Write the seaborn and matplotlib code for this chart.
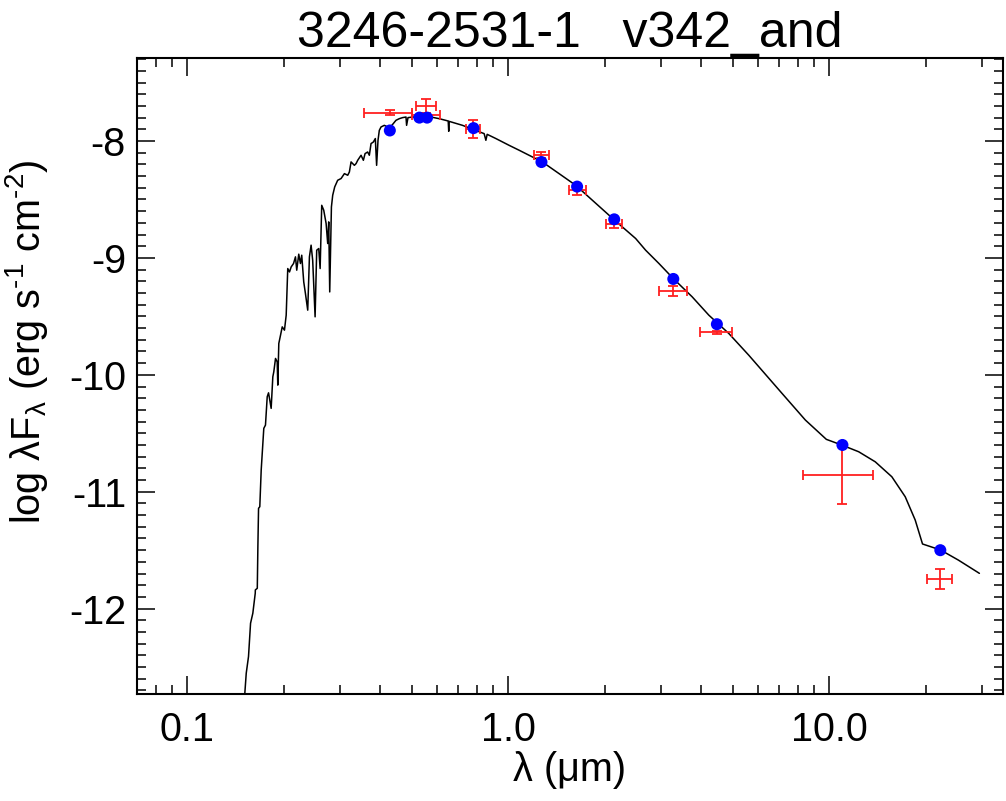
import numpy as np
import pandas as pd
import matplotlib
matplotlib.use("Agg")
import matplotlib.pyplot as plt
import seaborn as sns
from matplotlib.ticker import FixedLocator, FixedFormatter, LogLocator, MultipleLocator, NullFormatter

sns.set_theme(style="ticks")
plt.rcParams["font.family"] = ["Liberation Sans", "DejaVu Sans"]
plt.rcParams["mathtext.fontset"] = "custom"
plt.rcParams["mathtext.rm"] = "Liberation Sans"
plt.rcParams["mathtext.default"] = "regular"
plt.rcParams["axes.unicode_minus"] = False
plt.rcParams["text.color"] = "black"
plt.rcParams["axes.labelcolor"] = "black"
plt.rcParams["xtick.color"] = "black"
plt.rcParams["ytick.color"] = "black"

# model spectrum (wavelength in micron, log lambda F_lambda)
wl_model = [0.151, 0.1528, 0.1553, 0.1576, 0.1602, 0.1630, 0.1631, 0.1654, 0.1661, 0.1669,
            0.1684, 0.1701, 0.1733, 0.1754, 0.1776, 0.1793, 0.1809, 0.1827, 0.1849, 0.1862,
            0.1885, 0.1908, 0.1916, 0.1930, 0.1954, 0.1978, 0.2010, 0.2035, 0.2058, 0.2084,
            0.2109, 0.2145, 0.2175, 0.2195, 0.2227, 0.2254, 0.2275, 0.2308, 0.2336, 0.2375,
            0.2404, 0.2433, 0.2461, 0.2504, 0.2533, 0.2570, 0.2596, 0.2626, 0.2664, 0.2710,
            0.2741, 0.2761, 0.2781, 0.2815, 0.2841, 0.2882, 0.2944, 0.3017, 0.3090, 0.3164,
            0.3202, 0.3241, 0.3319, 0.3360, 0.3399, 0.3482, 0.3540, 0.3583, 0.3650, 0.3695,
            0.3740, 0.3802, 0.3857, 0.3893, 0.3932, 0.3969, 0.4018, 0.4114, 0.4213, 0.4316,
            0.4388, 0.4473, 0.4581, 0.4691, 0.4806, 0.4827, 0.4876, 0.5039, 0.5748, 0.6100,
            0.6506, 0.6530, 0.6550, 0.7208, 0.8419, 0.8524, 0.8604, 0.9157, 1.007, 1.082,
            1.162, 1.278, 1.441, 1.624, 2.137, 2.496, 2.681, 2.950, 3.268, 3.744,
            4.220, 4.868, 5.618, 7.133, 8.433, 9.802, 10.96, 12.36, 13.92, 15.68,
            17.26, 18.54, 19.54, 22.23, 25.28, 29.38]
logf_model = [-12.752, -12.552, -12.410, -12.125, -12.039, -11.868, -11.840, -11.826, -11.470, -11.142,
              -11.128, -10.815, -10.458, -10.430, -10.188, -10.154, -10.216, -10.287, -10.017, -9.974,
              -9.860, -9.889, -10.088, -9.732, -9.661, -9.590, -9.618, -9.490, -9.091, -9.120,
              -9.077, -9.048, -8.991, -9.105, -8.968, -9.048, -8.977, -9.205, -9.304, -9.447,
              -8.991, -8.891, -9.020, -9.504, -8.934, -8.920, -9.091, -8.550, -8.592, -8.706,
              -8.877, -8.692, -9.291, -8.564, -8.464, -8.393, -8.336, -8.321, -8.279, -8.293,
              -8.265, -8.179, -8.208, -8.193, -8.165, -8.122, -8.165, -8.108, -8.094, -8.122,
              -8.022, -8.009, -7.979, -8.208, -7.994, -7.909, -7.880, -7.866, -7.880, -7.874,
              -7.851, -7.823, -7.809, -7.800, -7.795, -7.866, -7.800, -7.795, -7.795, -7.809,
              -7.829, -7.917, -7.832, -7.866, -7.937, -7.994, -7.943, -7.979, -8.037, -8.079,
              -8.122, -8.179, -8.279, -8.379, -8.673, -8.834, -8.934, -9.048, -9.176, -9.333,
              -9.490, -9.646, -9.832, -10.159, -10.387, -10.552, -10.601, -10.658, -10.744, -10.872,
              -11.043, -11.242, -11.447, -11.498, -11.585, -11.698]

# synthetic photometry (blue dots)
wl_synth = [0.428, 0.529, 0.559, 0.78, 1.27, 1.64, 2.14, 3.27, 4.47, 11.0, 22.2]
logf_synth = [-7.91, -7.80, -7.80, -7.89, -8.18, -8.39, -8.67, -9.18, -9.567, -10.60, -11.50]

# observed photometry (red error bars)
wl_obs = [0.43, 0.555, 0.555, 0.777, 1.27, 1.64, 2.14, 3.26, 4.47, 11.0, 22.2]
wl_lo = [0.356, 0.518, 0.503, 0.738, 1.205, 1.548, 2.013, 2.95, 3.96, 8.29, 20.2]
wl_hi = [0.50, 0.597, 0.614, 0.818, 1.341, 1.745, 2.267, 3.60, 4.99, 13.68, 24.2]
logf_obs = [-7.757, -7.70, -7.78, -7.90, -8.118, -8.42, -8.706, -9.282, -9.638, -10.857, -11.749]
logf_err = [0.02, 0.06, 0.02, 0.078, 0.024, 0.04, 0.04, 0.04, 0.01, 0.252, 0.084]

title = "3246-2531-1   v342_and"
xtick_vals = [0.1, 1.0, 10.0]
xtick_labels = ["0.1", "1.0", "10.0"]

model = pd.DataFrame({"wl": wl_model, "logf": logf_model})
synth = pd.DataFrame({"wl": wl_synth, "logf": logf_synth})
obs = pd.DataFrame({"wl": wl_obs, "lo": wl_lo, "hi": wl_hi,
                    "logf": logf_obs, "err": logf_err})

fig = plt.figure(figsize=(10.06, 8.01), dpi=100)
ax = fig.add_axes([0.1362, 0.1336, 0.8608, 0.794])
ax.set_xscale("log")

sns.lineplot(data=model, x="wl", y="logf", ax=ax, sort=False, estimator=None,
             color="black", linewidth=1.1)
ax.errorbar(obs["wl"], obs["logf"],
            xerr=[obs["wl"] - obs["lo"], obs["hi"] - obs["wl"]],
            yerr=obs["err"], fmt="none", ecolor="#ff2020", elinewidth=1.3,
            capsize=3.5, capthick=1.3, zorder=3)
sns.scatterplot(data=synth, x="wl", y="logf", ax=ax, color="#0000ff", s=75,
                edgecolor="none", zorder=4)

ax.set_xlim(0.0698, 34.8)
ax.set_ylim(-12.73, -7.29)

ax.xaxis.set_major_locator(FixedLocator(xtick_vals))
ax.xaxis.set_major_formatter(FixedFormatter(xtick_labels))
ax.xaxis.set_minor_locator(LogLocator(base=10, subs=np.arange(2, 10)))
ax.xaxis.set_minor_formatter(NullFormatter())
ax.yaxis.set_major_locator(MultipleLocator(1))
ax.yaxis.set_minor_locator(MultipleLocator(0.1))

ax.tick_params(which="both", direction="in", top=True, right=True,
               width=1.1, color="black", labelsize=28.5)
ax.tick_params(which="major", length=13)
ax.tick_params(which="minor", length=6.5)
ax.tick_params(axis="x", pad=12)
ax.tick_params(axis="y", pad=8)
for sp in ax.spines.values():
    sp.set_linewidth(1.5)
    sp.set_color("black")

ax.set_xlabel("λ (μm)", fontsize=28.5, labelpad=2)
ax.set_ylabel(r"log λF$_{λ}$ (erg s$^{\text{-}1}$ cm$^{\text{-}2}$)", fontsize=28.5)
ax.yaxis.set_label_coords(-0.1, 0.553)
ax.set_title(title, fontsize=36, pad=8)

fig.savefig("out.png", dpi=100)
